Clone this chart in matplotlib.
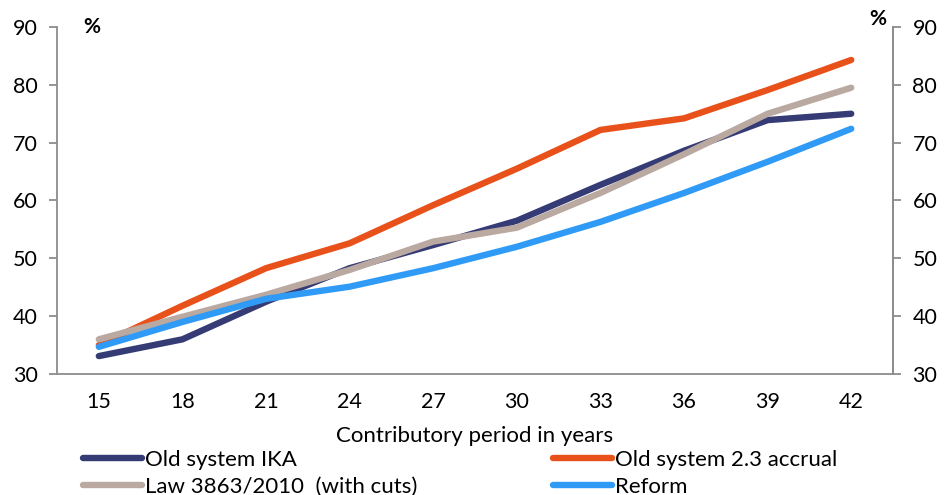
import matplotlib
matplotlib.use('Agg')
import matplotlib.pyplot as plt

# contributory years (categories)
years = ['15', '18', '21', '24', '27', '30', '33', '36', '39', '42']

old_ika = [33.1, 36.0, 42.5, 48.3, 52.3, 56.5, 62.7, 68.6, 73.9, 75.0]
old_accrual = [35.0, 41.8, 48.3, 52.6, 59.2, 65.5, 72.2, 74.2, 79.1, 84.3]
law_3863 = [36.0, 39.9, 43.7, 48.0, 52.9, 55.3, 61.3, 68.0, 75.0, 79.5]
reform = [34.7, 39.0, 43.0, 45.1, 48.3, 52.0, 56.3, 61.3, 66.7, 72.4]

labels = ['Old system IKA', 'Old system 2.3 accrual',
          'Law 3863/2010  (with cuts)', 'Reform']
colors = ['#353B74', '#E8511A', '#B9A9A1', '#2F9BF6']

plt.rcParams['font.family'] = ['Lato', 'DejaVu Sans']

fig = plt.figure(figsize=(9.46, 4.95), dpi=100)
ax = fig.add_axes([0.0603, 0.2444, 0.8837, 0.7011])

x = range(len(years))
series = [old_ika, old_accrual, law_3863, reform]
# orange goes underneath the others at the start
order = [1, 0, 2, 3]
handles = {}
for i in order:
    ln, = ax.plot(x, series[i], color=colors[i], lw=4.6,
                  solid_capstyle='round', solid_joinstyle='round', label=labels[i])
    handles[i] = ln

ax.set_xlim(-0.5, len(years) - 0.5)
ax.set_ylim(30, 90)
ax.set_yticks(range(30, 91, 10))
ax.set_xticks(list(x))
ax.set_xticklabels(years)
ax.tick_params(axis='x', length=0, labelsize=15.5, pad=13)
ax.tick_params(axis='y', direction='out', length=6, width=1.3,
               color='#8C8C8C', labelsize=15.5, pad=8)
ax.set_xlabel('Contributory period in years', fontsize=16, labelpad=10)

ax.spines['top'].set_visible(False)
for s in ['left', 'bottom', 'right']:
    ax.spines[s].set_color('#8C8C8C')
    ax.spines[s].set_linewidth(1.3)

ax2 = ax.twinx()
ax2.set_ylim(30, 90)
ax2.set_yticks(range(30, 91, 10))
ax2.tick_params(axis='y', direction='out', length=6, width=1.3,
                color='#8C8C8C', labelsize=15.5, pad=8)
for s in ['top', 'left', 'bottom']:
    ax2.spines[s].set_visible(False)
ax2.spines['right'].set_color('#8C8C8C')
ax2.spines['right'].set_linewidth(1.3)

fig.text(92 / 946, 1 - 27 / 495, '%', fontsize=15, fontweight='bold',
         ha='center', va='center')
fig.text(878 / 946, 1 - 19 / 495, '%', fontsize=15, fontweight='bold',
         ha='center', va='center')

# two single-column legends, left and right
leg_kw = dict(loc='upper left', frameon=False, fontsize=16, handlelength=2.65,
              handletextpad=0.12, labelspacing=0.3, borderpad=0, borderaxespad=0)
fig.legend([handles[0], handles[2]], [labels[0], labels[2]],
           bbox_to_anchor=(83 / 946, 1 - 450 / 495), **leg_kw)
fig.legend([handles[1], handles[3]], [labels[1], labels[3]],
           bbox_to_anchor=(553 / 946, 1 - 450 / 495), **leg_kw)

fig.savefig('out.png', dpi=100)
